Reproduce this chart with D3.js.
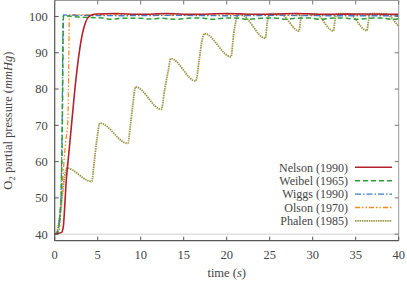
<!DOCTYPE html>
<html>
<head>
<meta charset="utf-8">
<script src="https://cdn.jsdelivr.net/npm/d3@7"></script>
<style>
  body { margin: 0; background: #fff; }
  text { font-family: "Liberation Serif", "DejaVu Serif", serif; fill: #444; }
</style>
</head>
<body>
<div class="container"></div>
<script>
const size = { width: 407, height: 283 };
const margin = { left: 54.7, right: 8.3, top: 0.5, bottom: 42.3 };

// x ticks / y ticks
const xTicks = [0, 5, 10, 15, 20, 25, 30, 35, 40];
const yTicks = [40, 50, 60, 70, 80, 90, 100];

// Nelson (1990)
const nelsonT = [0, 0.8, 1.0, 1.15, 1.35, 1.55, 1.95, 2.35, 2.85, 3.2, 3.6, 4.1, 4.8, 7, 10, 13, 16, 20, 24, 28, 32, 36, 40];
const nelsonV = [40, 40.5, 42, 47, 55, 60, 70, 80, 90, 95, 98.5, 100.2, 100.7, 100.8, 100.6, 100.8, 100.6, 100.8, 100.6, 100.8, 100.6, 100.7, 100.6];

// Weibel (1965)
const weibelT = [0, 0.35, 0.53, 0.68, 0.76, 0.83, 0.88, 0.93, 0.98, 1.03, 2, 4, 5.5, 6.5, 8, 10, 11, 12.5, 14, 15.5, 17, 18.3, 19.5, 21, 22.5, 24, 25.5, 26.8, 28, 29.5, 31, 32, 33.5, 35, 36.5, 38, 39.3, 40];
const weibelV = [40, 40.5, 43, 47, 50, 60, 68, 80, 95, 100.3, 100.0, 99.7, 99.6, 99.2, 99.5, 99.5, 99.3, 99.5, 99.2, 99.5, 99.6, 99.2, 99.5, 99.6, 99.2, 99.5, 99.6, 99.2, 99.5, 99.6, 99.2, 99.5, 99.6, 99.2, 99.5, 99.6, 99.2, 99.4];

// Wiggs (1990)
const wiggsT = [0, 0.3, 0.5, 0.65, 0.73, 0.8, 0.85, 0.9, 0.95, 1.0, 3, 8, 14, 20, 26, 32, 40];
const wiggsV = [40, 40.5, 43, 47, 50, 60, 68, 80, 95, 100.4, 100.3, 100.2, 100.3, 100.2, 100.3, 100.2, 100.2];

// Olson (1970)
const olsonT = [0, 0.5, 0.8, 1.08, 1.3, 1.5, 1.6, 1.65, 1.7, 2.2, 8, 15, 22, 30, 40];
const olsonV = [40, 40.6, 50, 60, 66, 70, 80, 90, 100.3, 100.4, 100.5, 100.4, 100.5, 100.4, 100.4];

// Phalen (1985)
const phalenT = [0, 0.3, 0.6, 0.9, 1.15, 1.4, 4.3, 4.6, 4.9, 5.25, 8.5, 8.8, 9.1, 9.4, 12.4, 12.8, 13.2, 13.5, 16.4, 16.8, 17.1, 17.4, 20.5, 20.8, 21.1, 21.4, 21.6, 24.5, 24.7, 25.0, 26.3, 28.4, 28.6, 28.8, 30.3, 32.4, 32.6, 32.8, 34.2, 36.3, 36.5, 36.7, 38.4, 40];
const phalenV = [40, 41, 45, 51, 56, 58.2, 54.5, 60, 66, 70.6, 65.0, 70, 76, 80.6, 74.4, 80, 85, 88.4, 82.2, 88, 93, 95.3, 88.9, 95, 99, 100.6, 100.6, 94.0, 98, 100.8, 100.6, 96.0, 99, 100.7, 100.7, 96, 99, 100.8, 100.7, 96.1, 99, 100.8, 100.7, 97.2];

const seriesNames = ["Nelson (1990)", "Weibel (1965)", "Wiggs (1990)", "Olson (1970)", "Phalen (1985)"];
const seriesT = [nelsonT, weibelT, wiggsT, olsonT, phalenT];
const seriesV = [nelsonV, weibelV, wiggsV, olsonV, phalenV];
const colors = ["#b5202a", "#2e9e35", "#3d7cc9", "#ff8a1a", "#9d9748"];
const dashes = [null, "5,3", "6,2,1.5,2", "5,2,1.5,2,1.5,2", "1.5,0.8"];
const widths = [1.6, 1.5, 1.3, 1.3, 1.8];

const svg = d3.select(".container")
              .append("svg")
              .attr("width", size.width)
              .attr("height", size.height);

const x = d3.scaleLinear().domain([0, 40]).range([margin.left, size.width - margin.right]);
const y = d3.scaleLinear().domain([38.2, 104.4]).range([size.height - margin.bottom, margin.top]);

const x0 = x.range()[0], x1 = x.range()[1];
const y0 = y.range()[0], y1 = y.range()[1];

// reference line at 40
svg.append("line")
   .attr("x1", x0).attr("x2", x1)
   .attr("y1", y(40)).attr("y2", y(40))
   .attr("stroke", "#cfcfcf").attr("stroke-width", 1);

const line = d3.line()
               .x(d => x(d[0]))
               .y(d => y(d[1]))
               .curve(d3.curveMonotoneX);

svg.append("clipPath").attr("id", "clip")
   .append("rect").attr("x", x0).attr("y", y1).attr("width", x1 - x0).attr("height", y0 - y1);

const plot = svg.append("g").attr("clip-path", "url(#clip)");

// draw in reverse so Nelson is on top
for (let i = seriesNames.length - 1; i >= 0; i--) {
    const pts = seriesT[i].map((t, j) => [t, seriesV[i][j]]);
    plot.append("path")
        .attr("d", line(pts))
        .attr("fill", "none")
        .attr("stroke", colors[i])
        .attr("stroke-width", widths[i])
        .attr("stroke-dasharray", dashes[i]);
}

// frame
svg.append("line").attr("x1", x0).attr("x2", x1).attr("y1", y1).attr("y2", y1).attr("stroke", "#999");
svg.append("line").attr("x1", x1).attr("x2", x1).attr("y1", y1).attr("y2", y0).attr("stroke", "#999");
svg.append("line").attr("x1", x0).attr("x2", x0).attr("y1", y1).attr("y2", y0).attr("stroke", "#555").attr("stroke-width", 1.2);
svg.append("line").attr("x1", x0).attr("x2", x1).attr("y1", y0).attr("y2", y0).attr("stroke", "#555").attr("stroke-width", 1.2);

// inward ticks
const tl = 4;
xTicks.forEach(t => {
    svg.append("line").attr("x1", x(t)).attr("x2", x(t)).attr("y1", y0).attr("y2", y0 - tl).attr("stroke", "#555");
    svg.append("line").attr("x1", x(t)).attr("x2", x(t)).attr("y1", y1).attr("y2", y1 + tl).attr("stroke", "#777");
    svg.append("text").attr("x", x(t)).attr("y", y0 + 18)
       .attr("text-anchor", "middle").attr("font-size", 12.5).text(t);
});
yTicks.forEach(v => {
    svg.append("line").attr("x1", x0).attr("x2", x0 + tl).attr("y1", y(v)).attr("y2", y(v)).attr("stroke", "#555");
    svg.append("line").attr("x1", x1).attr("x2", x1 - tl).attr("y1", y(v)).attr("y2", y(v)).attr("stroke", "#777");
    svg.append("text").attr("x", x0 - 7).attr("y", y(v)).attr("dy", "0.35em")
       .attr("text-anchor", "end").attr("font-size", 12.5).text(v);
});

// axis titles
const xt = svg.append("text").attr("x", (x0 + x1) / 2).attr("y", 277)
   .attr("text-anchor", "middle").attr("font-size", 12.5);
xt.append("tspan").text("time (");
xt.append("tspan").attr("font-style", "italic").text("s");
xt.append("tspan").text(")");

const yt = svg.append("text")
   .attr("transform", `translate(12, ${(y0 + y1) / 2}) rotate(-90)`)
   .attr("text-anchor", "middle").attr("font-size", 12.5);
yt.append("tspan").text("O");
yt.append("tspan").attr("font-size", 9).attr("dy", 3).text("2");
yt.append("tspan").attr("dy", -3).text(" partial pressure (");
yt.append("tspan").attr("font-style", "italic").text("mmHg");
yt.append("tspan").text(")");

// legend
const legend = svg.append("g");
seriesNames.forEach((name, i) => {
    const ly = 167.3 + i * 13.4;
    legend.append("text").attr("x", 348).attr("y", ly).attr("dy", "0.35em")
          .attr("text-anchor", "end").attr("font-size", 12).attr("fill", "#333").text(name);
    legend.append("line").attr("x1", 355).attr("x2", 392).attr("y1", ly).attr("y2", ly)
          .attr("stroke", colors[i]).attr("stroke-width", widths[i])
          .attr("stroke-dasharray", dashes[i]);
});
</script>
</body>
</html>
